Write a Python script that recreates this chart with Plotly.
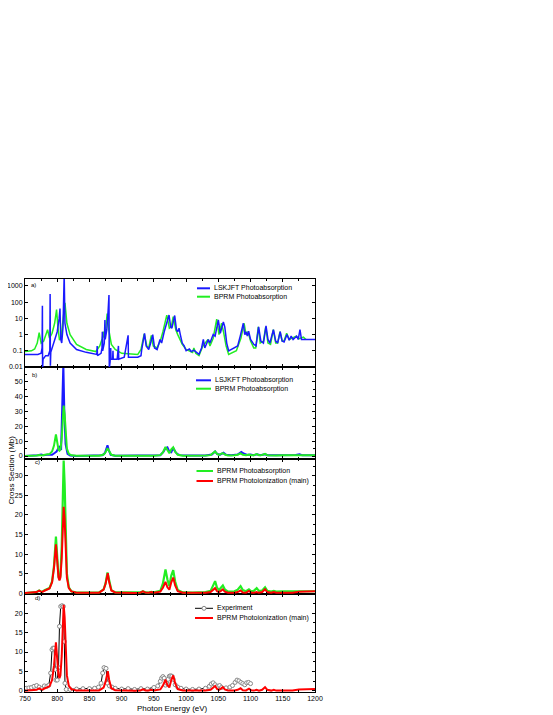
import plotly.graph_objects as go

# ---------------- data ----------------
# Panel a) log scale, raw cross sections
a_blue_E = [750, 770, 775, 776.5, 777, 777.3, 778, 782, 786, 788.5, 789, 789.4, 790, 793, 797, 800, 803, 804.3,
            805.5, 807, 809, 810.8, 812, 815, 820, 830, 845, 860, 861.5, 862, 862.5, 868, 869.5, 870, 870.5, 873,
            874, 874.5, 877, 879, 880.3, 880.8, 882, 883, 883.5, 886, 886.5, 887, 893, 895, 895.5, 900, 904, 910,
            910.5, 925, 930, 931, 933, 935.5, 938, 942, 945, 948.2, 951, 955, 959.5, 962, 966, 970, 973.5, 976,
            978, 982.3, 985, 987, 989, 991, 994, 997, 1000, 1005, 1008, 1012, 1016, 1020, 1024, 1026.7, 1029,
            1034.5, 1037, 1042, 1045, 1050, 1053, 1057.8, 1060, 1063, 1066, 1070, 1075, 1080, 1084, 1088.8, 1091,
            1093, 1095, 1097, 1100, 1105, 1108.5, 1112.5, 1116, 1120, 1124, 1127, 1130, 1135.5, 1139, 1142, 1146,
            1149, 1152, 1156.5, 1160, 1163, 1166, 1171.5, 1174, 1176.7, 1179, 1185, 1200]
a_blue_v = [0.06, 0.06, 0.07, 0.15, 60, 0.008, 0.03, 0.05, 0.05, 0.1, 320, 0.012, 0.08, 0.2, 0.5, 1.5, 10, 40,
            0.5, 0.3, 3, 5000, 5, 1.0, 0.3, 0.12, 0.08, 0.06, 0.06, 0.2, 0.05, 0.07, 0.15, 1.5, 0.1, 0.3,
            8, 0.5, 2, 30, 280, 0.008, 0.02, 0.15, 0.03, 0.03, 0.1, 0.03, 0.03, 0.2, 0.03, 0.035, 0.04, 0.9,
            0.04, 0.04, 0.05, 0.11, 0.4, 1.2, 0.2, 0.12, 0.3, 1.0, 0.15, 0.12, 0.5, 0.3, 1.5, 5, 16, 3,
            2.5, 15, 2, 1.5, 2.5, 1.0, 0.3, 0.2, 0.1, 0.13, 0.09, 0.11, 0.08, 0.06, 0.15, 0.5, 0.15,
            0.5, 0.3, 1.0, 0.8, 8, 1.2, 6, 3, 0.3, 0.1, 0.12, 0.15, 0.2, 0.8, 5, 1.0,
            1.5, 0.8, 1.6, 0.5, 0.25, 0.2, 3, 0.4, 0.3, 3.5, 0.5, 0.3, 2, 0.4, 0.3, 1.5,
            0.4, 0.35, 1.0, 0.45, 0.8, 0.5, 0.8, 0.5, 2.0, 0.5, 0.5, 0.5]

a_green_E = [750, 760, 765, 769, 772, 775, 779, 782, 785, 788, 792, 796, 799, 801, 803.5, 806, 809, 812, 815,
             820, 830, 845, 860, 866, 870, 871.5, 873, 875, 877.5, 880, 884, 890, 900, 925, 930, 935, 939, 942,
             946, 949, 955, 960, 964, 970, 974, 977, 980, 984, 987, 990, 994, 1000, 1010, 1012, 1015, 1020, 1026,
             1034, 1037, 1042, 1047.5, 1051, 1055, 1058, 1062, 1066, 1070, 1078, 1085, 1090, 1093, 1096, 1100,
             1105, 1108, 1112, 1115, 1120, 1123.5, 1127, 1131, 1135.3, 1139, 1142, 1145.7, 1149, 1152, 1156,
             1160, 1164, 1171, 1175, 1182, 1186]
a_green_v = [0.09, 0.1, 0.13, 0.3, 1.3, 0.3, 0.4, 0.8, 2.0, 0.6, 1.2, 5, 35, 3, 0.45, 0.7, 6, 90, 5,
             1.0, 0.25, 0.12, 0.09, 0.2, 0.6, 1.5, 0.6, 2, 20, 2, 0.25, 0.12, 0.07, 0.06, 0.12, 1.1, 0.2, 0.15,
             0.9, 0.2, 0.15, 0.4, 1.5, 16, 2.5, 3, 13, 2, 1, 0.5, 0.25, 0.12, 0.08, 0.15, 0.07, 0.05, 0.2,
             0.5, 0.2, 0.6, 9, 1.0, 5, 1.5, 0.2, 0.06, 0.07, 0.1, 0.6, 5, 1.0, 1.5, 0.4,
             0.15, 0.15, 3, 0.3, 0.4, 3, 0.3, 0.25, 2, 0.3, 0.3, 1.5, 0.4, 0.4, 1.2,
             0.5, 0.6, 0.8, 0.55, 0.7, 0.5]

# Panel b) LSJKFT photoabsorption (convolved)
b_blue_E = [750, 765, 770, 775, 779, 784, 788, 792, 796, 799, 802, 804, 806, 808, 809.5, 811, 813, 816, 820, 830,
            860, 870, 874, 876.5, 878, 880, 883, 890, 930, 946, 960, 965, 968, 971, 974, 977, 980, 983, 986, 990,
            1000, 1030, 1040, 1045, 1048, 1052, 1058, 1062, 1070, 1080, 1085.6, 1090, 1095, 1100, 1105, 1110,
            1115, 1122, 1127, 1135, 1145, 1160, 1170, 1176, 1180, 1200]
b_blue_v = [0.05, 0.2, 0.5, 1.0, 0.5, 0.8, 0.6, 0.8, 2, 3, 5.5, 6.3, 4, 30, 62, 30, 8, 1.5, 0.4, 0.1,
            0.1, 0.5, 2, 5, 7.2, 4, 0.8, 0.2, 0.3, 0.3, 0.6, 3, 5.2, 5.8, 3, 2.5, 5.5, 3, 1.5, 0.6,
            0.3, 0.3, 1, 3.1, 1.5, 0.8, 2.2, 0.8, 0.5, 1.0, 2.8, 1.5, 0.7, 1.0, 0.6, 1.2,
            0.5, 1.2, 0.5, 0.6, 0.5, 0.6, 0.7, 1.2, 0.6, 0.6]

# BPRM photoabsorption (convolved), panels b) and c)
bprm_abs_E = [750, 760, 768, 772, 776, 781, 784, 788, 792, 795, 798, 800, 802, 803.5, 805, 807, 809, 810, 811.5,
              813, 815, 818, 822, 830, 850, 865, 872, 875, 878, 880.5, 884, 890, 920, 929, 933, 937, 942, 946,
              950, 960, 964, 968, 971, 974, 977, 980, 983, 987, 995, 1010, 1030, 1038, 1042, 1045, 1048, 1051,
              1054, 1057, 1060, 1065, 1075, 1080, 1084.5, 1088, 1093, 1097.5, 1101, 1105, 1109.5, 1113, 1118,
              1122.5, 1126, 1132, 1136, 1140, 1150, 1160, 1180, 1200]
bprm_abs_v = [0.05, 0.1, 0.3, 0.7, 0.35, 0.8, 1.1, 1.3, 3, 7, 14.5, 9, 4.2, 3.6, 4.5, 12, 28, 33.9, 28,
              14, 5, 1.5, 0.5, 0.15, 0.1, 0.2, 1.0, 2.5, 5.3, 3, 0.8, 0.2, 0.1, 0.2, 0.5, 0.2, 0.15, 0.35,
              0.2, 0.6, 2.5, 6.1, 3.5, 1.8, 4.5, 5.9, 3, 0.8, 0.2, 0.15, 0.3, 0.6, 2, 3.1, 1.4, 0.8,
              1.4, 2.0, 1.0, 0.4, 0.5, 0.9, 1.8, 0.8, 0.5, 1.0, 0.5, 0.6, 1.3, 0.6, 0.7,
              1.5, 0.6, 0.4, 0.6, 0.4, 0.45, 0.5, 0.5, 0.5]

# BPRM photoionization (main), panels c) and d)
bprm_ion_E = [750, 760, 768, 772, 776, 781, 784, 788, 792, 795, 798, 800, 802, 803.5, 805, 807, 809, 810, 811.5,
              813, 815, 818, 822, 830, 850, 865, 872, 875, 878.5, 880.5, 884, 890, 920, 929, 933, 937, 942, 946,
              950, 960, 964, 968, 971, 974, 977, 980, 983, 987, 995, 1010, 1030, 1038, 1042, 1045, 1048, 1051,
              1054, 1057, 1060, 1065, 1075, 1080, 1084.5, 1088, 1093, 1097.5, 1101, 1105, 1109.5, 1113, 1118,
              1122.5, 1126, 1132, 1136, 1140, 1150, 1165, 1175, 1185, 1200]
bprm_ion_v = [0.05, 0.1, 0.3, 0.65, 0.3, 0.7, 1.0, 1.2, 2.8, 6.5, 12.5, 8, 4, 3.3, 4, 9, 19, 22.1, 19,
              10, 4, 1.3, 0.45, 0.15, 0.08, 0.15, 0.9, 2.4, 5.1, 2.9, 0.7, 0.2, 0.08, 0.15, 0.45, 0.15, 0.12, 0.3,
              0.15, 0.4, 1.4, 2.9, 1.5, 0.9, 2.8, 4.0, 2, 0.5, 0.15, 0.1, 0.15, 0.3, 0.9, 1.3, 0.5, 0.3,
              0.6, 1.0, 0.4, 0.15, 0.15, 0.3, 0.7, 0.2, 0.15, 0.6, 0.15, 0.1, 0.3, 0.1, 0.3,
              1.0, 0.3, 0.1, 0.3, 0.1, 0.1, 0.15, 0.4, 0.5, 0.5]

# Panel d) experiment
exp_E = [752, 756, 760, 764, 768, 772, 776, 780, 784, 787, 789.8, 791.9, 793.5, 795, 796.5, 798, 800, 802,
         803.5, 805.4, 807.5, 809.5, 811, 812, 814, 820, 830, 840, 850, 858, 864, 868, 870.5, 872.6, 875.7,
         877.8, 881, 885, 890, 900, 910, 920, 930, 940, 950, 956, 960, 962, 964, 966, 968, 970, 972, 974, 976,
         978, 980, 983, 987, 992, 1000, 1010, 1020, 1030, 1036, 1039, 1042, 1045, 1049, 1052, 1055, 1062, 1068,
         1072, 1076, 1079, 1082, 1085, 1088, 1091, 1094, 1097, 1100]
exp_v = [0.7, 0.8, 0.9, 1.2, 1.4, 1.0, 0.6, 1.3, 1.2, 1.5, 4.6, 10.6, 11.0, 11.0, 5.5, 2.8, 2.8, 6.0,
         16.6, 21.7, 21.9, 21.7, 12.7, 2.0, 0.4, 0.4, 0.5, 0.6, 0.6, 0.7, 1.0, 2.0, 4.6, 6.0, 5.8,
         2.0, 1.3, 1.0, 0.7, 0.5, 0.6, 0.4, 0.6, 0.5, 0.9, 1.3, 2.5, 3.3, 3.7, 3.3, 1.5, 2.0, 3.0, 3.8, 3.9,
         3.8, 3.0, 1.6, 1.0, 0.7, 0.5, 0.4, 0.5, 0.7, 1.2, 1.8, 2.1, 1.6, 1.2, 1.4, 0.9, 0.8, 1.0,
         1.4, 2.2, 2.8, 2.6, 2.2, 1.9, 1.6, 2.1, 2.2, 1.9]

x_ticks = [750, 800, 850, 900, 950, 1000, 1050, 1100, 1150, 1200]
a_ticks = [0.01, 0.1, 1, 10, 100, 1000]
a_tick_text = ["0.01", "0.1", "1", "10", "100", "1000"]

# ---------------- layout ----------------
BLUE = "#1a1aff"
GREEN = "#22ee22"
RED = "#ff0000"
FONT = "Liberation Sans, Arial, sans-serif"

OFF = 8                      # page body margin of the browser
W, H = 537, 707
L, R, T, B = 25 - OFF, 315 - OFF, 279 - OFF, 692 - OFF

def fx(px):                  # px given in window pixels
    return (px - OFF - L) / (R - L)
def fy(py):
    return (B - (py - OFF)) / (B - T)

# panel borders in window pixels: a, b, c, d
borders = {"a": (279, 367), "b": (367, 459), "c": (459, 594), "d": (594, 692)}
ax_id = {"d": "", "c": "2", "b": "3", "a": "4"}

fig = go.Figure()

def add(E, v, panel, color, width, **kw):
    i = ax_id[panel]
    fig.add_trace(go.Scatter(x=E, y=v, mode=kw.pop("mode", "lines"), line=dict(color=color, width=width),
                             xaxis="x" + i, yaxis="y" + i, showlegend=False, **kw))

add(a_green_E, a_green_v, "a", GREEN, 1.5)
add(a_blue_E, a_blue_v, "a", BLUE, 1.5)
add(b_blue_E, b_blue_v, "b", BLUE, 2)
add(bprm_abs_E, bprm_abs_v, "b", GREEN, 2)
add(bprm_abs_E, bprm_abs_v, "c", GREEN, 2.2)
add(bprm_ion_E, bprm_ion_v, "c", RED, 2)
add(exp_E, exp_v, "d", "black", 1, mode="lines+markers",
    marker=dict(symbol="circle", size=4, color="white", line=dict(color="#888888", width=1)))
add(bprm_ion_E, bprm_ion_v, "d", RED, 2)

common = dict(showline=True, linecolor="black", linewidth=1, mirror="allticks", ticks="inside",
              ticklen=3, tickwidth=1, tickcolor="black", showgrid=False, zeroline=False,
              tickfont=dict(family=FONT, size=7, color="black"))
minor_common = dict(ticklen=2, ticks="inside", tickcolor="black")

lay = {}
for p, i in ax_id.items():
    top, bot = borders[p]
    xa = dict(common, domain=[0, 1], range=[750, 1200], tickvals=x_ticks, anchor="y" + i,
              minor=dict(minor_common, dtick=25, tick0=750),
              showticklabels=(p == "d"))
    if i:
        xa["matches"] = "x"
    lay["xaxis" + i] = xa
    lay["yaxis" + i] = dict(common, domain=[fy(bot), fy(top)], anchor="x" + i)

lay["yaxis4"].update(type="log", range=[-2, 3.43], tickvals=a_ticks, ticktext=a_tick_text)
lay["yaxis3"].update(range=[-2, 59.9], dtick=10, tick0=0, minor=dict(minor_common, dtick=5))
lay["yaxis2"].update(range=[-0.2, 34.3], dtick=5, tick0=0, minor=dict(minor_common, dtick=2.5))
lay["yaxis"].update(range=[-0.26, 24.9], dtick=5, tick0=0, minor=dict(minor_common, dtick=2.5))

annotations = []
shapes = []

# panel letters
for txt, (px, py) in {"a)": (29, 285), "b)": (30, 375), "c)": (33, 462), "d)": (33, 598)}.items():
    annotations.append(dict(text=txt, x=fx(px), y=fy(py), xref="paper", yref="paper", xanchor="left",
                            yanchor="middle", showarrow=False, font=dict(family=FONT, size=6, color="black")))

# legends (manual, compact like the original)
legend_rows = [
    ("LSKJFT Photoabsorption", BLUE, 288.3, 197, 210, 212, None),
    ("BPRM Photoabsorption", GREEN, 296.7, 197, 210, 212, None),
    ("LSJKFT Photoabsorption", BLUE, 380.3, 196, 211, 213, None),
    ("BPRM Photoabsorption", GREEN, 388.7, 196, 211, 213, None),
    ("BPRM Photoabsorption", GREEN, 471, 196.5, 213, 215, None),
    ("BPRM Photoionization (main)", RED, 481, 196.5, 213, 215, None),
    ("Experiment", "black", 608.3, 195, 213, 215, "circle"),
    ("BPRM Photoionization (main)", RED, 618, 195, 213, 215, None),
]
for txt, col, py, x0, x1, xt, mk in legend_rows:
    shapes.append(dict(type="line", xref="paper", yref="paper", x0=fx(x0), x1=fx(x1), y0=fy(py), y1=fy(py),
                       line=dict(color=col, width=1 if mk else 2)))
    if mk:
        cx = (x0 + x1) / 2
        shapes.append(dict(type="circle", xref="paper", yref="paper", x0=fx(cx - 2), x1=fx(cx + 2),
                           y0=fy(py + 2), y1=fy(py - 2), fillcolor="white", line=dict(color="#888888", width=1)))
    annotations.append(dict(text=txt, x=fx(xt), y=fy(py), xref="paper", yref="paper", xanchor="left",
                            yanchor="middle", showarrow=False, font=dict(family=FONT, size=7, color="black")))

# axis titles
annotations.append(dict(text="Cross Section (Mb)", x=fx(10.5), y=fy(470), xref="paper", yref="paper",
                        textangle=-90, showarrow=False, xanchor="center", yanchor="middle",
                        font=dict(family=FONT, size=8, color="black")))
annotations.append(dict(text="Photon Energy (eV)", x=fx(172), y=fy(708), xref="paper", yref="paper",
                        showarrow=False, xanchor="center", yanchor="middle",
                        font=dict(family=FONT, size=8, color="black")))

fig.update_layout(width=W, height=H, margin=dict(l=L, r=W - R, t=T, b=H - B, pad=0, autoexpand=False),
                  paper_bgcolor="white", plot_bgcolor="white", showlegend=False,
                  annotations=annotations, shapes=shapes, **lay)

fig.write_html("out.html")
